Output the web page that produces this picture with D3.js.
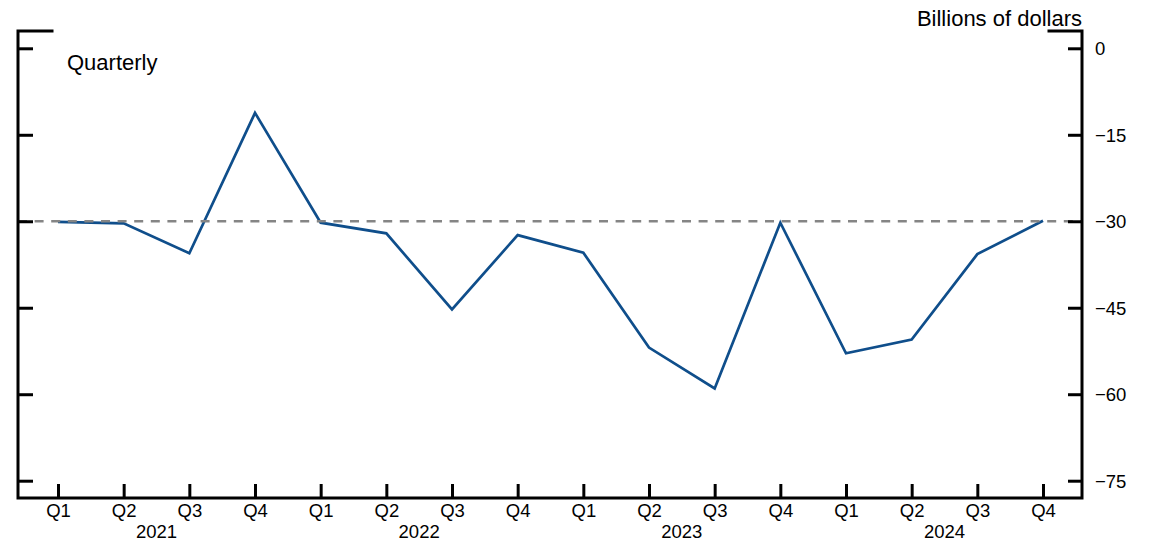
<!DOCTYPE html>
<html>
<head>
<meta charset="utf-8">
<script src="https://cdn.jsdelivr.net/npm/d3@7"></script>
<style>
  html, body { margin: 0; padding: 0; background: #fff; }
  svg { display: block; }
  text { font-family: "Liberation Sans", Arial, Helvetica, sans-serif; fill: #000; }
</style>
</head>
<body>
<svg id="chart" width="1153" height="550"></svg>
<script>
// ---- Data ----
const quarters = ["Q1","Q2","Q3","Q4","Q1","Q2","Q3","Q4","Q1","Q2","Q3","Q4","Q1","Q2","Q3","Q4"];
const years = ["2021","2022","2023","2024"];
const values = [-30.1, -30.35, -35.55, -11.2, -30.25, -32.1, -45.3, -32.4, -35.45, -51.9, -59.0, -30.25, -52.9, -50.5, -35.7, -29.9];
const yTicks = [0, -15, -30, -45, -60, -75];
const referenceValue = -30;
const yDomain = [-78, 3];
const unitLabel = "Billions of dollars";
const noteLabel = "Quarterly";

// ---- Layout ----
const pL = 18, pR = 1082, pT = 31, pB = 498;
const svg = d3.select("#chart");

const x = d3.scaleLinear().domain([0, quarters.length - 1]).range([58, 1043]);
const y = d3.scaleLinear().domain(yDomain).range([pB, pT]);

// Series line (drawn below the dashed reference)
const line = d3.line().x((d, i) => x(i)).y(d => y(d));
svg.append("path")
  .datum(values)
  .attr("fill", "none")
  .attr("stroke", "#0f4e8b")
  .attr("stroke-width", 2.7)
  .attr("stroke-linejoin", "miter")
  .attr("d", line);

// Dashed reference line
svg.append("line")
  .attr("x1", pL).attr("x2", pR)
  .attr("y1", y(referenceValue)).attr("y2", y(referenceValue))
  .attr("stroke", "#858585")
  .attr("stroke-width", 2.6)
  .attr("stroke-dasharray", "9,7.6");

// Left axis (ticks inward, no labels)
const gL = svg.append("g").attr("transform", `translate(${pL},0)`)
  .call(d3.axisRight(y).tickValues(yTicks).tickSizeInner(15).tickSizeOuter(0).tickFormat(""));
gL.select(".domain").remove();
gL.selectAll(".tick line").attr("stroke", "#000").attr("stroke-width", 3);

// Right axis (ticks inward, labels outside)
const gR = svg.append("g").attr("transform", `translate(${pR},0)`)
  .call(d3.axisRight(y).tickValues(yTicks).tickSizeInner(-14).tickSizeOuter(0).tickPadding(13)
    .tickFormat(d3.format("d")));
gR.select(".domain").remove();
gR.selectAll(".tick line").attr("stroke", "#000").attr("stroke-width", 3);
gR.selectAll(".tick text")
  .attr("font-size", 18.5)
  .attr("font-family", "Liberation Sans, Arial, sans-serif")
  .attr("fill", "#000")
  .attr("text-anchor", "start")
  .attr("dy", "0.35em");

// Bottom axis (ticks upward, labels below)
const gB = svg.append("g").attr("transform", `translate(0,${pB})`)
  .call(d3.axisBottom(x).tickValues(d3.range(quarters.length)).tickSizeInner(-14).tickSizeOuter(0)
    .tickFormat(i => quarters[i]));
gB.select(".domain").remove();
gB.selectAll(".tick line").attr("stroke", "#000").attr("stroke-width", 3);
gB.selectAll(".tick text")
  .attr("font-size", 18.5)
  .attr("font-family", "Liberation Sans, Arial, sans-serif")
  .attr("fill", "#000")
  .attr("y", 18.8)
  .attr("dy", null);

// Year labels
svg.append("g").selectAll("text").data(years).join("text")
  .attr("x", (d, i) => x(i * 4 + 1.5))
  .attr("y", pB + 39.5)
  .attr("text-anchor", "middle")
  .attr("font-size", 18.5)
  .text(d => d);

// Frame: left, right, bottom lines and top corner stubs
const frame = svg.append("g").attr("stroke", "#000").attr("stroke-width", 3).attr("fill", "none");
frame.append("path").attr("d", `M${pL + 34},${pT}H${pL}V${pB}H${pR}V${pT}H${pR - 33}`)
  .attr("stroke-linejoin", "miter").attr("stroke-linecap", "square");

// Labels
svg.append("text")
  .attr("x", pR).attr("y", 26)
  .attr("text-anchor", "end")
  .attr("font-size", 22)
  .text(unitLabel);

svg.append("text")
  .attr("x", 67).attr("y", 70)
  .attr("font-size", 22)
  .text(noteLabel);
</script>
</body>
</html>
